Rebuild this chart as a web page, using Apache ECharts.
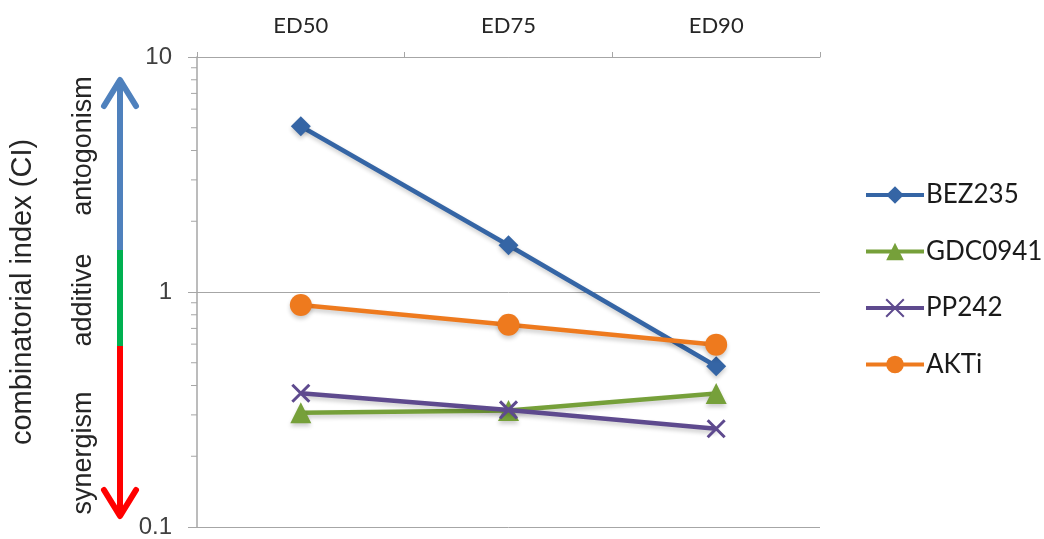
<!DOCTYPE html>
<html>
<head>
<meta charset="utf-8">
<script src="https://cdn.jsdelivr.net/npm/echarts@6/dist/echarts.min.js"></script>
<style>
  html, body { margin: 0; padding: 0; background: #fff; }
  #chart { width: 1044px; height: 539px; }
</style>
</head>
<body>
<div id="chart"></div>
<script>
const categories = ['ED50', 'ED75', 'ED90'];
const seriesNames = ['BEZ235', 'GDC0941', 'PP242', 'AKTi'];
const bez235 = [5.07, 1.58, 0.483];
const gdc0941 = [0.306, 0.313, 0.37];
const pp242 = [0.371, 0.315, 0.262];
const akti = [0.88, 0.726, 0.597];
const yMinorTickValues = [0.2, 0.3, 0.4, 0.5, 0.6, 0.7, 0.8, 0.9, 2, 3, 4, 5, 6, 7, 8, 9];
const yAxisTitle = 'combinatorial index (CI)';
const zoneLabels = ['antogonism', 'additive', 'synergism'];

const colors = ['#3565a5', '#76a03a', '#5e4a8e', '#ee7a1e'];
const symbols = ['diamond', 'triangle', 'path://M0,0L10,10M10,0L0,10', 'circle'];
const symbolSizes = [20, 21, 17, 22];
const values = [bez235, gdc0941, pp242, akti];

const chart = echarts.init(document.getElementById('chart'));

const lineSeries = seriesNames.map((name, i) => ({
  name: name,
  type: 'line',
  data: values[i],
  symbol: symbols[i],
  symbolSize: symbolSizes[i],
  z: 3 + i,
  lineStyle: {
    color: colors[i], width: 4.5,
    shadowColor: 'rgba(0,0,0,0.2)', shadowBlur: 4, shadowOffsetX: 1, shadowOffsetY: 3
  },
  itemStyle: i === 2
    ? { color: 'transparent', borderColor: colors[i], borderWidth: 3 }
    : { color: colors[i], borderWidth: 0, shadowColor: 'rgba(0,0,0,0.2)', shadowBlur: 4, shadowOffsetY: 3 },
  emphasis: { disabled: true },
  animation: false
}));

const minorTickSeries = {
  type: 'custom',
  name: 'minorTicks',
  silent: true,
  clip: false,
  animation: false,
  data: yMinorTickValues.map(v => [0, v]),
  encode: { x: 0, y: 1 },
  renderItem: function (params, api) {
    const p = api.coord([api.value(0), api.value(1)]);
    const x0 = params.coordSys.x;
    return {
      type: 'line',
      shape: { x1: x0 - 6, y1: p[1], x2: x0, y2: p[1] },
      style: { stroke: '#a6a6a6', lineWidth: 1 }
    };
  }
};

const arrowX = 120;
const zoneFont = '27px "Liberation Sans", Arial, sans-serif';

chart.setOption({
  backgroundColor: '#ffffff',
  animation: false,
  grid: { left: 195, right: 224, top: 57, bottom: 8, containLabel: false },
  legend: {
    orient: 'vertical',
    left: 859,
    top: 177,
    itemWidth: 58,
    itemHeight: 22,
    itemGap: 30.5,
    data: seriesNames,
    selectedMode: false,
    lineStyle: { width: 4 },
    textStyle: { fontFamily: 'Lato, sans-serif', fontSize: 26, color: '#1a1a1a', padding: [0, 0, 0, -3] }
  },
  xAxis: [{
    type: 'category',
    data: categories,
    position: 'top',
    boundaryGap: true,
    axisLine: { lineStyle: { color: '#a6a6a6', width: 1 } },
    axisTick: { show: true, length: 5, lineStyle: { color: '#a6a6a6' } },
    axisLabel: { fontFamily: 'Lato, sans-serif', fontSize: 22, color: '#262626', margin: 20 },
    splitLine: { show: false }
  }],
  yAxis: [{
    type: 'log',
    logBase: 10,
    min: 0.1,
    max: 10,
    name: yAxisTitle,
    nameLocation: 'middle',
    nameGap: 160,
    nameRotate: 90,
    nameTextStyle: { fontFamily: '"Liberation Sans", Arial, sans-serif', fontSize: 29, color: '#262626' },
    axisLine: { show: true, lineStyle: { color: '#a6a6a6', width: 1.5 } },
    axisTick: { show: true, length: 9, lineStyle: { color: '#a6a6a6' } },
    axisLabel: { fontFamily: '"Liberation Sans", Arial, sans-serif', fontSize: 24, color: '#404040', margin: 25 },
    splitLine: { show: true, lineStyle: { color: '#a6a6a6', width: 1 } }
  }],
  series: lineSeries.concat([minorTickSeries]),
  graphic: [
    { type: 'line', silent: true, shape: { x1: arrowX, y1: 82, x2: arrowX, y2: 250 },
      style: { stroke: '#4f81bd', lineWidth: 6 } },
    { type: 'polyline', silent: true, shape: { points: [[arrowX - 16, 106], [arrowX, 80], [arrowX + 16, 106]] },
      style: { stroke: '#4f81bd', lineWidth: 6, fill: null, lineCap: 'round', lineJoin: 'round' } },
    { type: 'line', silent: true, shape: { x1: arrowX, y1: 250, x2: arrowX, y2: 346 },
      style: { stroke: '#00b050', lineWidth: 6 } },
    { type: 'line', silent: true, shape: { x1: arrowX, y1: 346, x2: arrowX, y2: 514 },
      style: { stroke: '#ff0000', lineWidth: 6 } },
    { type: 'polyline', silent: true, shape: { points: [[arrowX - 16, 490], [arrowX, 516], [arrowX + 16, 490]] },
      style: { stroke: '#ff0000', lineWidth: 6, fill: null, lineCap: 'round', lineJoin: 'round' } },
    { type: 'text', silent: true, x: 84, y: 146, rotation: Math.PI / 2,
      style: { text: zoneLabels[0], font: zoneFont, fill: '#262626', align: 'center', verticalAlign: 'middle' } },
    { type: 'text', silent: true, x: 84, y: 300, rotation: Math.PI / 2,
      style: { text: zoneLabels[1], font: zoneFont, fill: '#262626', align: 'center', verticalAlign: 'middle' } },
    { type: 'text', silent: true, x: 84, y: 453, rotation: Math.PI / 2,
      style: { text: zoneLabels[2], font: zoneFont, fill: '#262626', align: 'center', verticalAlign: 'middle' } }
  ]
});
</script>
</body>
</html>
